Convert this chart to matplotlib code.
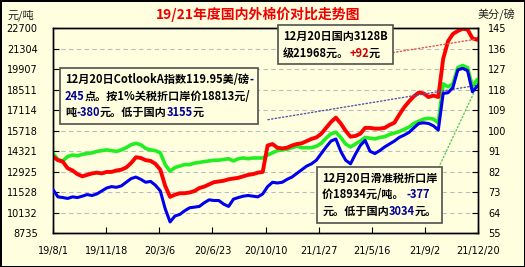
import pandas as pd
import matplotlib
matplotlib.use("Agg")
import matplotlib.pyplot as plt
from matplotlib.offsetbox import TextArea, HPacker, VPacker, AnnotationBbox

FONTS = ['Noto Sans CJK SC', 'DejaVu Sans']
plt.rcParams['font.family'] = FONTS

BG = '#FFFFE0'

# sampled every 10 days, plus the last day
dates = pd.date_range("2019-08-01", periods=88, freq="10D").append(pd.DatetimeIndex(["2021-12-20"]))

# domestic 3128B, yuan/ton
red = [13950, 13700, 13600, 13150, 13000, 12750, 12600, 12700, 12800, 12850,
       12800, 12900, 12900, 13000, 13050, 13200, 13500, 13900, 13850, 13700,
       13650, 13450, 13050, 11950, 11200, 11350, 11450, 11450, 11500, 11600,
       11800, 11900, 12050, 12200, 12250, 12300, 12400, 12450, 12500, 12600,
       12700, 12750, 12850, 12900, 14700, 14800, 14550, 14500, 14550, 14700,
       14800, 14850, 15000, 15150, 15250, 15500, 15900, 16300, 16600, 16200,
       15700, 15300, 15350, 15500, 15900, 15900, 15850, 15850, 15900, 16100,
       16250, 16800, 17300, 17700, 18050, 18300, 18250, 18000, 18100, 18000,
       20600, 21800, 22300, 22500, 22650, 22600, 22000, 21900, 21968]

# sliding-scale duty import price, yuan/ton
green = [14150, 13750, 13650, 13950, 14050, 14000, 14100, 14150, 14200, 14300,
         14350, 14400, 14350, 14300, 14400, 14550, 14750, 14850, 14750, 14500,
         14400, 14350, 14200, 13400, 12950, 13200, 13300, 13400, 13400, 13500,
         13550, 13600, 13650, 13700, 13700, 13750, 13800, 13650, 13800, 13850,
         13800, 13850, 13850, 13850, 14050, 14200, 14350, 14400, 14450, 14550,
         14650, 14550, 14550, 14550, 14650, 14850, 15200, 15500, 15600, 15250,
         14800, 14600, 14800, 15000, 15250, 15200, 15150, 15250, 15300, 15450,
         15550, 15650, 15800, 15950, 16200, 16350, 16500, 16550, 16500, 16250,
         18900, 18700, 18900, 20000, 20150, 20000, 18700, 19200, 18934]

# Cotlook A index, cents/lb
blue = [74.1, 70.9, 70.6, 70.2, 70.9, 70.6, 71.2, 71.9, 71.5, 72.2,
        73.5, 74.8, 75.4, 75.1, 75.7, 77.3, 78.9, 79.6, 78.6, 77.3,
        77.7, 76.0, 73.5, 65.7, 59.9, 62.5, 63.2, 64.8, 66.1, 66.4,
        66.7, 68.3, 69.6, 69.3, 69.3, 67.7, 66.7, 69.9, 70.6, 71.2,
        71.5, 71.2, 70.9, 72.2, 75.4, 77.3, 77.0, 77.3, 78.6, 79.6,
        81.2, 82.8, 84.4, 85.4, 87.0, 89.9, 92.8, 95.4, 96.3, 90.9,
        87.0, 85.4, 89.6, 93.4, 95.7, 90.9, 89.9, 91.2, 92.8, 94.1,
        95.4, 97.0, 98.0, 99.2, 101.2, 103.1, 103.4, 103.1, 102.1, 100.2,
        116.3, 116.6, 118.9, 126.6, 127.3, 126.3, 117.0, 119.5, 119.95]

left_ticks = [8735, 10132, 11528, 12925, 14321, 15718, 17114, 18511, 19907, 21304, 22700]
right_ticks = [55, 64, 73, 82, 91, 100, 109, 118, 127, 136, 145]
x_ticks = pd.to_datetime(["2019-08-01", "2019-11-18", "2020-03-06", "2020-06-23", "2020-10-10",
                          "2021-01-27", "2021-05-16", "2021-09-02", "2021-12-20"])
x_labels = ["19/8/1", "19/11/18", "20/3/6", "20/6/23", "20/10/10",
            "21/1/27", "21/5/16", "21/9/2", "21/12/20"]

box_red = [[("12月20日国内3128B", 'black')],
           [("级21968元。", 'black'), ("+92", '#CC0000'), ("元", 'black')]]
box_blue = [[("12月20日CotlookA指数119.95美/磅", 'black'), ("-", '#000099')],
            [("245", '#000099'), ("点。按1%关税折口岸价18813元/", 'black')],
            [("吨", 'black'), ("-380", '#000099'), ("元。低于国内", 'black'),
             ("3155", '#000099'), ("元", 'black')]]
box_green = [[("12月20日滑准税折口岸", 'black')],
             [("价18934元/吨。 ", 'black'), ("-377", '#000099')],
             [("元。低于国内", 'black'), ("3034", '#000099'), ("元。", 'black')]]


def make_box(lines, fs=8):
    rows = []
    for segs in lines:
        parts = [TextArea(t, textprops=dict(color=c, fontsize=fs, fontweight='bold', family=FONTS))
                 for t, c in segs]
        rows.append(HPacker(children=parts, align='baseline', pad=0, sep=0))
    return VPacker(children=rows, align='left', pad=0, sep=2.5)


fig = plt.figure(figsize=(5.25, 2.67), dpi=100, facecolor=BG, edgecolor='black', linewidth=2)
ax = fig.add_axes([0.101, 0.127, 0.810, 0.768])
ax.set_facecolor(BG)
ax2 = ax.twinx()

ax.plot(dates, green, color='#22EE22', linewidth=2.6, zorder=3)
ax.plot(dates, red, color='#FF0000', linewidth=2.8, zorder=4)
ax2.plot(dates, blue, color='#0000EE', linewidth=2.2, zorder=3)

ax.set_ylim(left_ticks[0], left_ticks[-1])
ax2.set_ylim(right_ticks[0], right_ticks[-1])
ax.set_xlim(x_ticks[0], x_ticks[-1])
ax.set_yticks(left_ticks)
ax.set_yticklabels([str(t) for t in left_ticks])
ax2.set_yticks(right_ticks)
ax2.set_yticklabels([str(t) for t in right_ticks])
ax.set_xticks(x_ticks)
ax.set_xticklabels(x_labels)

ax.yaxis.grid(True, color='#BBBBBB', linestyle=(0, (4, 3)), linewidth=0.8)
ax.tick_params(axis='y', direction='in', length=4, pad=11, labelsize=7, labelfontfamily='DejaVu Sans')
ax.tick_params(axis='x', direction='in', length=4, pad=9, labelsize=7, labelfontfamily='DejaVu Sans')
ax2.tick_params(axis='y', direction='in', length=4, pad=7, labelsize=7, labelfontfamily='DejaVu Sans')
for a in (ax, ax2):
    for s in a.spines.values():
        s.set_color('black')
        s.set_linewidth(1.0)

fig.text(0.491, 0.944, "19/21年度国内外棉价对比走势图", color='#EE0000', fontsize=10,
         fontweight='bold', ha='center', va='center')
fig.text(0.015, 0.944, "元/吨", fontsize=8, ha='left', va='center', color='#222222')
fig.text(0.981, 0.944, "美分/磅", fontsize=8, ha='right', va='center', color='#222222')

# dotted leader lines from the notes to the last points
ax.annotate("", xy=(dates[-1], red[-1]), xytext=(0.793, 0.878), textcoords='axes fraction',
            arrowprops=dict(arrowstyle='-', linestyle=':', color='#DD5555', lw=1), zorder=5)
ax2.annotate("", xy=(dates[-1], blue[-1]), xytext=(0.499, 0.551), textcoords='axes fraction',
             arrowprops=dict(arrowstyle='-', linestyle=':', color='#5555AA', lw=1), zorder=2)
ax.annotate("", xy=(dates[-1], green[-1]), xytext=(0.904, 0.307), textcoords='axes fraction',
            arrowprops=dict(arrowstyle='-', linestyle=':', color='#55CC55', lw=1), zorder=2)

for lines, pos in [(box_red, (0.541, 0.990)), (box_blue, (0.028, 0.780)), (box_green, (0.633, 0.298))]:
    ab = AnnotationBbox(make_box(lines), pos, xycoords='axes fraction', box_alignment=(0, 1),
                        frameon=True, pad=0.35,
                        bboxprops=dict(fc=BG, ec='#505050', lw=1.2))
    ab.set_zorder(10)
    ax2.add_artist(ab)

fig.savefig("out.png", dpi=100, facecolor=BG, edgecolor='black')
